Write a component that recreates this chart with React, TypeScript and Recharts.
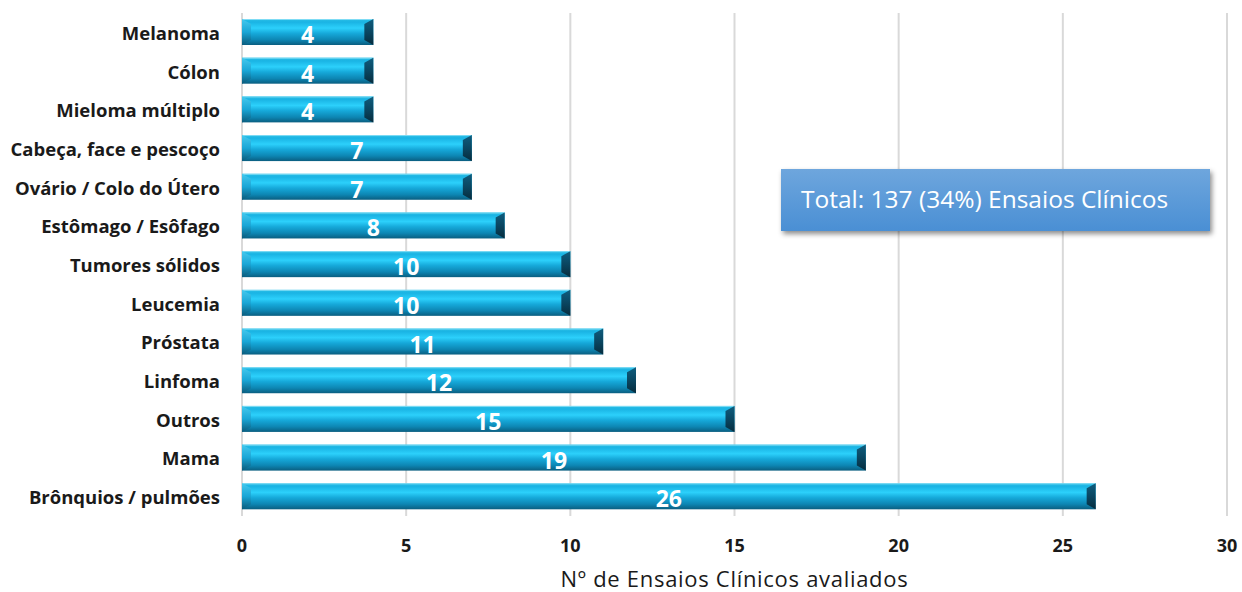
import React from "react";
import { BarChart, Bar, XAxis, YAxis, CartesianGrid, LabelList } from "recharts";

const categories = [
  "Melanoma",
  "Cólon",
  "Mieloma múltiplo",
  "Cabeça, face e pescoço",
  "Ovário / Colo do Útero",
  "Estômago / Esôfago",
  "Tumores sólidos",
  "Leucemia",
  "Próstata",
  "Linfoma",
  "Outros",
  "Mama",
  "Brônquios / pulmões",
];
const trials = [4, 4, 4, 7, 7, 8, 10, 10, 11, 12, 15, 19, 26];
const xTicks = [0, 5, 10, 15, 20, 25, 30];

const data = categories.map((name, i) => ({ name, value: trials[i] }));

const FONT = "'Open Sans', Lato, sans-serif";

const BevelBar = (props: any) => {
  const { x, y, width, height } = props;
  if (!width || width <= 0) return null;
  const bx = Math.min(9, width / 2);
  const by = 5;
  return (
    <g>
      <rect x={x} y={y} width={width} height={height} fill="url(#barGrad)" />
      <line x1={x} y1={y + 0.5} x2={x + width} y2={y + 0.5} stroke="#7fdcf5" strokeWidth={1} />
      <polygon
        points={`${x},${y} ${x + bx},${y + by} ${x + bx},${y + height - by} ${x},${y + height}`}
        fill="url(#leftGrad)"
      />
      <polygon
        points={`${x + width - bx},${y + by} ${x + width},${y} ${x + width},${y + height} ${x + width - bx},${y + height - by}`}
        fill="url(#rightGrad)"
      />
    </g>
  );
};

const ValueLabel = (props: any) => {
  const { x, y, width, height, value } = props;
  return (
    <text
      x={x + width / 2}
      y={y + height / 2 + 2}
      textAnchor="middle"
      dominantBaseline="central"
      fill="#ffffff"
      fontFamily={FONT}
      fontWeight={700}
      fontSize={23}
    >
      {value}
    </text>
  );
};

const CatTick = (props: any) => {
  const { x, y, payload } = props;
  return (
    <text
      x={x}
      y={y}
      textAnchor="end"
      dominantBaseline="central"
      fill="#1a1a1a"
      fontFamily={FONT}
      fontWeight={700}
      fontSize={18.5}
    >
      {payload.value}
    </text>
  );
};

const NumTick = (props: any) => {
  const { x, y, payload } = props;
  return (
    <text
      x={x}
      y={y + 28}
      textAnchor="middle"
      fill="#1a1a1a"
      fontFamily={FONT}
      fontWeight={700}
      fontSize={18}
    >
      {payload.value}
    </text>
  );
};

export default function App() {
  return (
    <div style={{ position: "absolute", left: 0, top: 0, width: 1242, height: 592, background: "#ffffff" }}>
      <BarChart
        width={1242}
        height={592}
        data={data}
        layout="vertical"
        margin={{ top: 13, right: 15, bottom: 0, left: 10 }}
      >
        <defs>
          <linearGradient id="barGrad" x1="0" y1="0" x2="0" y2="1">
            <stop offset="0%" stopColor="#2bbfe6" />
            <stop offset="12%" stopColor="#1ab4e4" />
            <stop offset="35%" stopColor="#2cd0fb" />
            <stop offset="55%" stopColor="#16a9da" />
            <stop offset="80%" stopColor="#0d86b3" />
            <stop offset="100%" stopColor="#0a5e80" />
          </linearGradient>
          <linearGradient id="leftGrad" x1="0" y1="0" x2="0" y2="1">
            <stop offset="0%" stopColor="#45c9ee" />
            <stop offset="50%" stopColor="#1aa6d6" />
            <stop offset="100%" stopColor="#0b5a7a" />
          </linearGradient>
          <linearGradient id="rightGrad" x1="0" y1="0" x2="0" y2="1">
            <stop offset="0%" stopColor="#0f5d7e" />
            <stop offset="50%" stopColor="#0a4661" />
            <stop offset="100%" stopColor="#062c3d" />
          </linearGradient>
        </defs>
        <CartesianGrid horizontal={false} vertical stroke="#d9d9d9" strokeWidth={2} />
        <XAxis
          type="number"
          domain={[0, 30]}
          ticks={xTicks}
          axisLine={false}
          tickLine={false}
          tick={<NumTick />}
          height={76}
          label={{
            value: "Nº de Ensaios Clínicos avaliados",
            position: "insideBottom",
            offset: 5,
            fill: "#1a1a1a",
            fontFamily: FONT,
            fontSize: 22,
            letterSpacing: 0.7,
          }}
        />
        <YAxis
          type="category"
          dataKey="name"
          width={232}
          axisLine={false}
          tickLine={false}
          tick={<CatTick />}
          tickMargin={16}
          interval={0}
        />
        <Bar dataKey="value" barSize={26} shape={<BevelBar />} isAnimationActive={false}>
          <LabelList dataKey="value" content={<ValueLabel />} />
        </Bar>
      </BarChart>
      <div
        style={{
          position: "absolute",
          left: 781,
          top: 169,
          width: 429,
          height: 62,
          background: "linear-gradient(#6ea6dd, #4a8fd4)",
          boxShadow: "2px 3px 5px rgba(0,0,0,0.45)",
          color: "#ffffff",
          fontFamily: FONT,
          fontSize: 24.5,
          display: "flex",
          alignItems: "center",
          paddingLeft: 20,
          paddingBottom: 4,
          boxSizing: "border-box",
          whiteSpace: "nowrap",
        }}
      >
        Total: 137 (34%) Ensaios Clínicos
      </div>
    </div>
  );
}
